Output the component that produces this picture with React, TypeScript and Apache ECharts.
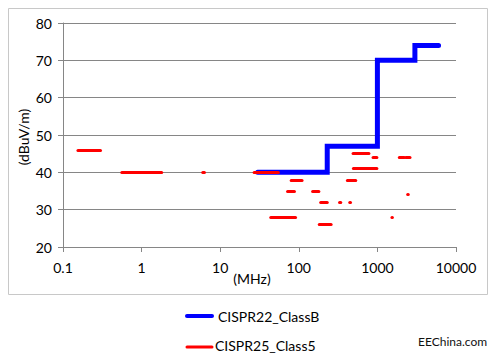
import React, { useEffect, useRef } from "react";
import * as echarts from "echarts";

// CISPR22 Class B limit (step line)
const classBFreq = [30, 230, 230, 1000, 1000, 3000, 3000, 6000];
const classBLevel = [40, 40, 47, 47, 70, 70, 74, 74];

// CISPR25 Class 5 limit segments (start MHz, end MHz, level dBuV/m)
const c25Start = [0.155, 0.56, 6.0, 27, 80, 72, 150, 190, 330, 445, 44, 182, 1530, 2430, 490, 880, 1900, 2300, 495, 415];
const c25End = [0.3, 1.8, 6.3, 55, 110, 88, 180, 230, 342, 455, 91, 258, 1550, 2470, 780, 985, 2200, 2600, 985, 530];
const c25Level = [46, 40, 40, 40, 38, 35, 35, 32, 32, 32, 28, 26, 28, 34, 45, 44, 44, 44, 41, 38];

const yTicks = [20, 30, 40, 50, 60, 70, 80];
const seriesNames = ["CISPR22_ClassB", "CISPR25_Class5"];

const FONT = "Lato, 'Open Sans', sans-serif";

export default function App() {
  const ref = useRef<HTMLDivElement>(null);
  useEffect(() => {
    if (!ref.current) return;
    const chart = echarts.init(ref.current, null, { renderer: "svg" });
    const blueData = classBFreq.map((f, i) => [f, classBLevel[i]]);
    const redData = c25Start.map((s, i) => ({
      coords: [
        [s, c25Level[i]],
        [c25End[i], c25Level[i]],
      ],
    }));
    chart.setOption({
      animation: false,
      backgroundColor: "#ffffff",
      grid: { left: 63, right: 40, top: 23, bottom: 107, containLabel: false },
      xAxis: {
        type: "log",
        logBase: 10,
        min: 0.1,
        max: 10000,
        axisLine: { show: true, lineStyle: { color: "#868686", width: 1 } },
        axisTick: { show: true, length: 5, inside: false, lineStyle: { color: "#868686" } },
        splitLine: { show: false },
        minorTick: { show: false },
        axisLabel: {
          color: "#000",
          fontFamily: FONT,
          fontSize: 14,
          margin: 13,
          formatter: (v: number) => String(v),
        },
      },
      yAxis: {
        type: "value",
        min: yTicks[0],
        max: yTicks[yTicks.length - 1],
        interval: 10,
        axisLine: { show: true, lineStyle: { color: "#868686", width: 1 } },
        axisTick: { show: true, length: 5, lineStyle: { color: "#868686" } },
        splitLine: { show: true, lineStyle: { color: "#868686", width: 1 } },
        axisLabel: { color: "#000", fontFamily: FONT, fontSize: 14, margin: 11 },
      },
      series: [
        {
          name: seriesNames[0],
          type: "line",
          data: blueData,
          showSymbol: false,
          symbol: "none",
          lineStyle: { color: "#0000ff", width: 5, cap: "round", join: "miter" },
          z: 2,
        },
        {
          name: seriesNames[1],
          type: "lines",
          coordinateSystem: "cartesian2d",
          data: redData,
          lineStyle: { color: "#ff0000", width: 3, cap: "round", opacity: 1 },
          z: 3,
        },
      ],
      graphic: [
        {
          type: "rect",
          shape: { x: 8.5, y: 8.5, width: 479, height: 286 },
          style: { fill: "none", stroke: "#c8c8c8", lineWidth: 1 },
          silent: true,
        },
        {
          type: "text",
          x: 23,
          y: 137,
          rotation: Math.PI / 2,
          style: {
            text: "(dBuV/m)",
            fill: "#000",
            font: `14px ${FONT}`,
            align: "center",
            verticalAlign: "middle",
          },
        },
        {
          type: "text",
          x: 252,
          y: 278,
          style: {
            text: "(MHz)",
            fill: "#000",
            font: `14px ${FONT}`,
            align: "center",
            verticalAlign: "middle",
          },
        },
        {
          type: "line",
          shape: { x1: 187, y1: 316, x2: 212, y2: 316 },
          style: { stroke: "#0000ff", lineWidth: 4, lineCap: "round" },
        },
        {
          type: "text",
          x: 218,
          y: 316,
          style: {
            text: seriesNames[0],
            fill: "#000",
            font: `14px ${FONT}`,
            align: "left",
            verticalAlign: "middle",
          },
        },
        {
          type: "line",
          shape: { x1: 187, y1: 347, x2: 212, y2: 347 },
          style: { stroke: "#ff0000", lineWidth: 3, lineCap: "round" },
        },
        {
          type: "text",
          x: 215,
          y: 345,
          style: {
            text: seriesNames[1],
            fill: "#000",
            font: `14px ${FONT}`,
            align: "left",
            verticalAlign: "middle",
          },
        },
        {
          type: "text",
          x: 418,
          y: 341,
          style: {
            text: "EEChina.com",
            fill: "#111",
            font: `12px ${FONT}`,
            align: "left",
            verticalAlign: "middle",
          },
        },
      ],
    });
    return () => chart.dispose();
  }, []);
  return <div ref={ref} style={{ width: 496, height: 354, position: "absolute", left: 0, top: 0 }} />;
}
